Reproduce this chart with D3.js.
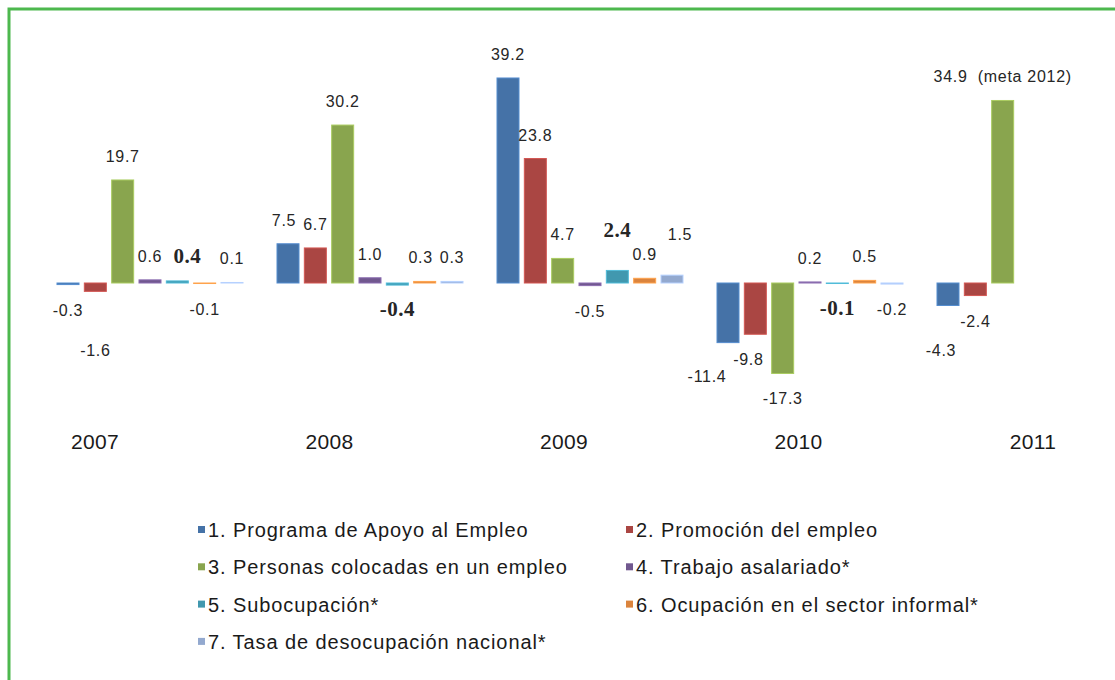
<!DOCTYPE html>
<html>
<head>
<meta charset="utf-8">
<script src="https://cdn.jsdelivr.net/npm/d3@7"></script>
<style>
  html, body { margin: 0; padding: 0; background: #fff; }
  svg { display: block; }
</style>
</head>
<body>
<svg id="chart" width="1115" height="680"></svg>
<script>
// ---------------- data ----------------
const years = ["2007", "2008", "2009", "2010", "2011"];
const seriesNames = [
  "1. Programa de Apoyo al Empleo",
  "2. Promoción del empleo",
  "3. Personas colocadas en un empleo",
  "4. Trabajo asalariado*",
  "5. Subocupación*",
  "6. Ocupación en el sector informal*",
  "7. Tasa de desocupación nacional*"
];
const s1 = [-0.3, 7.5, 39.2, -11.4, -4.3];
const s2 = [-1.6, 6.7, 23.8, -9.8, -2.4];
const s3 = [19.7, 30.2, 4.7, -17.3, 34.9];
const s4 = [0.6, 1.0, -0.5, 0.2, null];
const s5 = [0.4, -0.4, 2.4, -0.1, null];
const s6 = [-0.1, 0.3, 0.9, 0.5, null];
const s7 = [0.1, 0.3, 1.5, -0.2, null];
const seriesValues = [s1, s2, s3, s4, s5, s6, s7];
const annotation = "(meta 2012)"; // attached to series 3, 2011

// ---------------- styles ----------------
const colors = ["#4572A7", "#AA4643", "#89A54E", "#71588F", "#4198AF", "#DB843D", "#93A9CF"];

const svg = d3.select("#chart");

// border
svg.append("rect")
  .attr("x", 9).attr("y", 9)
  .attr("width", 1300).attr("height", 900)
  .attr("fill", "none")
  .attr("stroke", "#4DB84E")
  .attr("stroke-width", 3);

// scales
const x0 = d3.scaleBand().domain(years).range([40, 1140]).paddingInner(0);
const x1 = d3.scaleBand().domain(d3.range(seriesNames.length)).range([17, 203]).paddingInner(0.195);
const y = d3.scaleLinear().domain([-20, 40]).range([387.6, 73.8]);
const color = d3.scaleOrdinal().domain(d3.range(seriesNames.length)).range(colors);
const yearPos = d3.scalePoint().domain(years).range([95, 1033]);
const fmt = d3.formatLocale({ decimal: ".", thousands: ",", grouping: [3], currency: ["", ""], minus: "-" }).format(".1f");

// flatten
const cells = [];
seriesValues.forEach((vals, si) => {
  vals.forEach((v, yi) => {
    if (v !== null) cells.push({ s: si, year: years[yi], v });
  });
});

// bars
svg.append("g").selectAll("rect")
  .data(cells)
  .join("rect")
  .attr("x", d => x0(d.year) + x1(d.s))
  .attr("width", x1.bandwidth())
  .attr("y", d => y(Math.max(0, d.v)))
  .attr("height", d => Math.max(0.5, Math.abs(y(d.v) - y(0))))
  .attr("fill", d => color(d.s))
  .attr("stroke", d => d3.color(color(d.s)).brighter(0.6))
  .attr("stroke-width", 1);

// label manual nudges (dx, dy) keyed by series-year, as in original layout
const nudge = {
  "1-2007": [0, 34],
  "4-2007": [10, 0],
  "0-2008": [-4, 0],
  "5-2008": [-4, 0],
  "4-2009": [0, -15],
  "6-2009": [8, -17],
  "0-2010": [-21, 8],
  "1-2010": [-7, 0],
  "0-2011": [-7, 20]
};

svg.append("g").selectAll("text")
  .data(cells)
  .join("text")
  .attr("text-anchor", "middle")
  .attr("fill", "#262626")
  .style("font-family", d => d.s === 4 ? "'Liberation Serif', serif" : "'Liberation Sans', Arial, sans-serif")
  .style("font-size", d => d.s === 4 ? "21px" : "16px")
  .style("font-weight", d => d.s === 4 ? "bold" : "normal")
  .style("letter-spacing", d => d.s === 4 ? "0.5px" : "0.7px")
  .attr("x", d => {
    const n = nudge[d.s + "-" + d.year] || [0, 0];
    return x0(d.year) + x1(d.s) + x1.bandwidth() / 2 + n[0];
  })
  .attr("y", d => {
    const n = nudge[d.s + "-" + d.year] || [0, 0];
    const base = d.v >= 0 ? y(d.v) - 18 : y(d.v) + 31;
    return base + n[1];
  })
  .text(d => (d.s === 2 && d.year === "2011") ? fmt(d.v) + "\u00a0\u00a0" + annotation : fmt(d.v));

// year labels
svg.append("g").selectAll("text")
  .data(years)
  .join("text")
  .attr("x", d => yearPos(d))
  .attr("y", 449)
  .attr("text-anchor", "middle")
  .attr("fill", "#1a1a1a")
  .style("font-family", "'Liberation Sans', Arial, sans-serif")
  .style("font-size", "21px")
  .style("letter-spacing", "0.3px")
  .text(d => d);

// legend
const legend = svg.append("g");
const legItems = legend.selectAll("g")
  .data(seriesNames.map((n, i) => ({ n, i })))
  .join("g")
  .attr("transform", d => `translate(${d.i % 2 === 0 ? 198 : 626},${530 + Math.floor(d.i / 2) * 37.3})`);
legItems.append("rect")
  .attr("x", 0).attr("y", -4)
  .attr("width", 7).attr("height", 7)
  .attr("fill", d => color(d.i));
legItems.append("text")
  .attr("x", 10).attr("y", 7)
  .attr("fill", "#1a1a1a")
  .style("font-family", "'Liberation Sans', Arial, sans-serif")
  .style("font-size", "20px")
  .style("letter-spacing", "0.9px")
  .text(d => d.n);
</script>
</body>
</html>
